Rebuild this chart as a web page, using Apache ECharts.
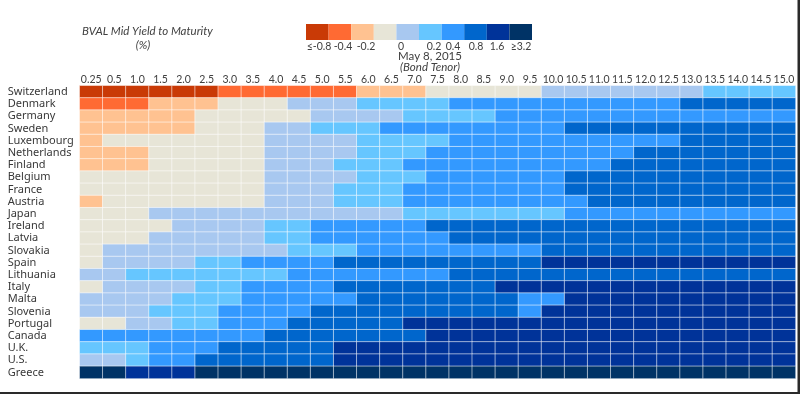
<!DOCTYPE html>
<html>
<head>
<meta charset="utf-8">
<script src="https://cdn.jsdelivr.net/npm/echarts@6/dist/echarts.min.js"></script>
<style>
html,body{margin:0;padding:0;background:#fff;}
#chart{width:800px;height:394px;}
</style>
</head>
<body>
<div id="chart"></div>
<script>
const tenors = ['0.25','0.5','1.0','1.5','2.0','2.5','3.0','3.5','4.0','4.5','5.0','5.5','6.0','6.5','7.0','7.5','8.0','8.5','9.0','9.5','10.0','10.5','11.0','11.5','12.0','12.5','13.0','13.5','14.0','14.5','15.0'];
const countries = ['Switzerland','Denmark','Germany','Sweden','Luxembourg','Netherlands','Finland','Belgium','France','Austria','Japan','Ireland','Latvia','Slovakia','Spain','Lithuania','Italy','Malta','Slovenia','Portugal','Canada','U.K.','U.S.','Greece'];
const legendLabels = ['≤-0.8','-0.4','-0.2','0','0.2','0.4','0.8','1.6','≥3.2'];

// Estimated yields (%) per tenor, read from the colour bins
const Switzerland = [-0.9,-0.9,-0.9,-0.9,-0.9,-0.9,-0.5,-0.5,-0.5,-0.5,-0.5,-0.5,-0.3,-0.3,-0.3,-0.1,-0.1,-0.1,-0.1,-0.1,0.1,0.1,0.1,0.1,0.1,0.1,0.1,0.3,0.3,0.3,0.3];
const Denmark = [-0.5,-0.5,-0.5,-0.3,-0.3,-0.3,-0.1,-0.1,-0.1,0.1,0.1,0.1,0.3,0.3,0.3,0.3,0.6,0.6,0.6,0.6,0.6,0.6,0.6,0.6,0.6,0.6,1.2,1.2,1.2,1.2,1.2];
const Germany = [-0.3,-0.3,-0.3,-0.3,-0.3,-0.1,-0.1,-0.1,-0.1,-0.1,0.1,0.1,0.1,0.1,0.3,0.3,0.3,0.3,0.6,0.6,0.6,0.6,0.6,0.6,0.6,0.6,0.6,0.6,0.6,0.6,0.6];
const Sweden = [-0.3,-0.3,-0.3,-0.3,-0.3,-0.1,-0.1,-0.1,0.1,0.1,0.3,0.3,0.3,0.6,0.6,0.6,0.6,0.6,0.6,0.6,0.6,1.2,1.2,1.2,1.2,1.2,1.2,1.2,1.2,1.2,1.2];
const Luxembourg = [-0.3,-0.1,-0.1,-0.1,-0.1,-0.1,-0.1,-0.1,0.1,0.1,0.1,0.1,0.3,0.3,0.3,0.3,0.6,0.6,0.6,0.6,0.6,0.6,0.6,0.6,0.6,0.6,1.2,1.2,1.2,1.2,1.2];
const Netherlands = [-0.3,-0.3,-0.3,-0.1,-0.1,-0.1,-0.1,-0.1,0.1,0.1,0.1,0.1,0.3,0.3,0.3,0.6,0.6,0.6,0.6,0.6,0.6,0.6,0.6,0.6,1.2,1.2,1.2,1.2,1.2,1.2,1.2];
const Finland = [-0.3,-0.3,-0.3,-0.1,-0.1,-0.1,-0.1,-0.1,0.1,0.1,0.1,0.3,0.3,0.3,0.6,0.6,0.6,0.6,0.6,0.6,0.6,0.6,0.6,1.2,1.2,1.2,1.2,1.2,1.2,1.2,1.2];
const Belgium = [-0.1,-0.1,-0.1,-0.1,-0.1,-0.1,-0.1,-0.1,0.1,0.1,0.1,0.1,0.3,0.3,0.3,0.6,0.6,0.6,0.6,0.6,0.6,1.2,1.2,1.2,1.2,1.2,1.2,1.2,1.2,1.2,1.2];
const France = [-0.1,-0.1,-0.1,-0.1,-0.1,-0.1,-0.1,-0.1,0.1,0.1,0.1,0.3,0.3,0.3,0.6,0.6,0.6,0.6,0.6,0.6,0.6,1.2,1.2,1.2,1.2,1.2,1.2,1.2,1.2,1.2,1.2];
const Austria = [-0.3,-0.1,-0.1,-0.1,-0.1,-0.1,-0.1,-0.1,0.1,0.1,0.1,0.3,0.3,0.3,0.6,0.6,0.6,0.6,0.6,0.6,0.6,0.6,1.2,1.2,1.2,1.2,1.2,1.2,1.2,1.2,1.2];
const Japan = [-0.1,-0.1,-0.1,0.1,0.1,0.1,0.1,0.1,0.1,0.1,0.1,0.1,0.1,0.1,0.3,0.3,0.3,0.3,0.3,0.3,0.3,0.6,0.6,0.6,0.6,0.6,0.6,0.6,0.6,0.6,0.6];
const Ireland = [-0.1,-0.1,-0.1,-0.1,0.1,0.1,0.1,0.1,0.3,0.3,0.6,0.6,0.6,0.6,0.6,1.2,1.2,1.2,1.2,1.2,1.2,1.2,1.2,1.2,1.2,1.2,1.2,1.2,1.2,1.2,1.2];
const Latvia = [-0.1,-0.1,-0.1,0.1,0.1,0.1,0.1,0.1,0.3,0.3,0.6,0.6,0.6,0.6,0.6,0.6,1.2,1.2,1.2,1.2,1.2,1.2,1.2,1.2,1.2,1.2,1.2,1.2,1.2,1.2,1.2];
const Slovakia = [-0.1,0.1,0.1,0.1,0.1,0.1,0.1,0.1,0.1,0.3,0.3,0.3,0.6,0.6,0.6,0.6,0.6,0.6,0.6,0.6,1.2,1.2,1.2,1.2,1.2,1.2,1.2,1.2,1.2,1.2,1.2];
const Spain = [-0.1,0.1,0.1,0.1,0.1,0.3,0.3,0.6,0.6,0.6,0.6,1.2,1.2,1.2,1.2,1.2,1.2,1.2,1.2,1.2,2.4,2.4,2.4,2.4,2.4,2.4,2.4,2.4,2.4,2.4,2.4];
const Lithuania = [0.1,0.1,0.3,0.3,0.3,0.3,0.3,0.3,0.3,0.6,0.6,0.6,0.6,0.6,0.6,0.6,1.2,1.2,1.2,1.2,1.2,1.2,1.2,1.2,1.2,1.2,1.2,1.2,1.2,1.2,1.2];
const Italy = [-0.1,0.1,0.1,0.1,0.1,0.3,0.3,0.6,0.6,0.6,0.6,1.2,1.2,1.2,1.2,1.2,1.2,1.2,2.4,2.4,2.4,2.4,2.4,2.4,2.4,2.4,2.4,2.4,2.4,2.4,2.4];
const Malta = [0.1,0.1,0.1,0.1,0.3,0.3,0.3,0.6,0.6,0.6,0.6,0.6,1.2,1.2,1.2,1.2,1.2,1.2,1.2,0.6,0.6,2.4,2.4,2.4,2.4,2.4,2.4,2.4,2.4,2.4,2.4];
const Slovenia = [0.1,0.1,0.1,0.3,0.3,0.3,0.6,0.6,0.6,0.6,1.2,1.2,1.2,1.2,1.2,1.2,1.2,1.2,1.2,0.6,2.4,2.4,2.4,2.4,2.4,2.4,2.4,2.4,2.4,2.4,2.4];
const Portugal = [-0.1,-0.1,0.1,0.1,0.3,0.3,0.6,0.6,0.6,1.2,1.2,1.2,1.2,1.2,2.4,2.4,2.4,2.4,2.4,2.4,2.4,2.4,2.4,2.4,2.4,2.4,2.4,2.4,2.4,2.4,2.4];
const Canada = [0.6,0.6,0.6,0.6,0.6,0.6,0.6,0.6,1.2,1.2,1.2,1.2,1.2,1.2,1.2,2.4,2.4,2.4,2.4,2.4,2.4,2.4,2.4,2.4,2.4,2.4,2.4,2.4,2.4,2.4,2.4];
const UK = [0.3,0.3,0.3,0.6,0.6,0.6,1.2,1.2,1.2,1.2,1.2,2.4,2.4,2.4,2.4,2.4,2.4,2.4,2.4,2.4,2.4,2.4,2.4,2.4,2.4,2.4,2.4,2.4,2.4,2.4,2.4];
const US = [0.1,0.1,0.3,0.6,0.6,1.2,1.2,1.2,1.2,1.2,1.2,2.4,2.4,2.4,2.4,2.4,2.4,2.4,2.4,2.4,2.4,2.4,2.4,2.4,2.4,2.4,2.4,2.4,2.4,2.4,2.4];
const Greece = [4.0,4.0,2.4,2.4,2.4,4.0,4.0,4.0,4.0,4.0,4.0,4.0,4.0,4.0,4.0,4.0,4.0,4.0,4.0,4.0,4.0,4.0,4.0,4.0,4.0,4.0,4.0,4.0,4.0,4.0,4.0];

const rows = [Switzerland,Denmark,Germany,Sweden,Luxembourg,Netherlands,Finland,Belgium,France,Austria,Japan,Ireland,Latvia,Slovakia,Spain,Lithuania,Italy,Malta,Slovenia,Portugal,Canada,UK,US,Greece];

const binColors = ['#C93A06','#FF6A33','#FFC291','#E7E5D7','#A8C8F0','#66C6FF','#3399FF','#0066CC','#003399','#003366'];

const data = [];
rows.forEach((r, yi) => r.forEach((v, xi) => data.push([xi, yi, v])));

const GL = 79.7, GR = 4.5, GT = 85.7, GB = 15.5;

const legendGraphics = [];
const lx0 = 306, lw = 22.6, ly = 24, lh = 16;
binColors.forEach((c, i) => {
  legendGraphics.push({type:'rect', shape:{x:lx0+i*lw, y:ly, width:lw, height:lh}, style:{fill:c}, silent:true});
});
const legendLabelX = [319, 343, 366, 401, 434, 453, 476, 497, 521];
legendLabels.forEach((t, i) => {
  legendGraphics.push({type:'text', x:legendLabelX[i], y:47, style:{text:t, fill:'#404040', font:'10.5px Lato', textAlign:'center', textVerticalAlign:'middle'}, silent:true});
});

const chart = echarts.init(document.getElementById('chart'), null, {renderer:'canvas'});
chart.setOption({
  animation: false,
  backgroundColor: '#ffffff',
  grid: {left: GL, right: GR, top: GT, bottom: GB, containLabel: false},
  xAxis: {
    type: 'category', data: tenors, position: 'top',
    axisLine: {show:false}, axisTick: {show:false}, splitLine: {show:false},
    axisLabel: {color:'#404040', fontFamily:'Lato', fontSize:10.5, margin:1, interval:0}
  },
  yAxis: {
    type: 'category', data: countries, inverse: true,
    axisLine: {show:false}, axisTick: {show:false}, splitLine: {show:false},
    axisLabel: {color:'#383838', fontFamily:'Noto Sans', fontSize:11, margin:72, align:'left', interval:0}
  },
  visualMap: {
    show: false, type: 'piecewise', dimension: 2,
    pieces: [
      {lte:-0.8, color:binColors[0]},
      {gt:-0.8, lte:-0.4, color:binColors[1]},
      {gt:-0.4, lte:-0.2, color:binColors[2]},
      {gt:-0.2, lte:0, color:binColors[3]},
      {gt:0, lte:0.2, color:binColors[4]},
      {gt:0.2, lte:0.4, color:binColors[5]},
      {gt:0.4, lte:0.8, color:binColors[6]},
      {gt:0.8, lte:1.6, color:binColors[7]},
      {gt:1.6, lt:3.2, color:binColors[8]},
      {gte:3.2, color:binColors[9]}
    ]
  },
  series: [{
    type: 'heatmap', data: data,
    itemStyle: {borderColor:'rgba(255,255,255,0.55)', borderWidth:1},
    emphasis: {disabled:true}
  }],
  graphic: [
    {type:'text', x:82, y:31, style:{text:'BVAL Mid Yield to Maturity', fill:'#404040', font:'italic 11.5px Lato', textVerticalAlign:'middle'}, silent:true},
    {type:'text', x:143, y:45, style:{text:'(%)', fill:'#404040', font:'italic 11.5px Lato', textAlign:'center', textVerticalAlign:'middle'}, silent:true},
    {type:'text', x:430, y:56, style:{text:'May 8, 2015', fill:'#404040', font:'11.5px Lato', textAlign:'center', textVerticalAlign:'middle'}, silent:true},
    {type:'text', x:430, y:67, style:{text:'(Bond Tenor)', fill:'#404040', font:'italic 11.5px Lato', textAlign:'center', textVerticalAlign:'middle'}, silent:true},
    {type:'rect', shape:{x:797.5, y:0, width:2.5, height:394}, style:{fill:'#2a2a2a'}, silent:true},
    {type:'rect', shape:{x:0, y:392, width:800, height:2}, style:{fill:'#2a2a2a'}, silent:true}
  ].concat(legendGraphics)
});
</script>
</body>
</html>
